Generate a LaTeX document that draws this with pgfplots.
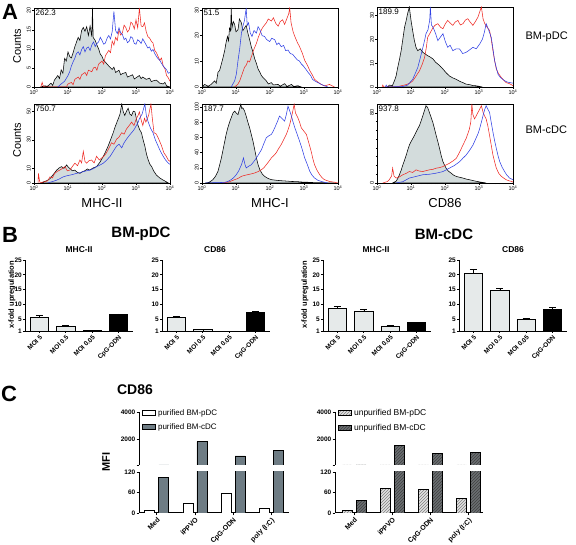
\documentclass[border=0pt]{standalone}
\usepackage{fontspec}
\setmainfont{Liberation Sans}
\usepackage{pgfplots}
\pgfplotsset{compat=1.18}
\usetikzlibrary{patterns}
\definecolor{hfill}{HTML}{D3DCDC}
\definecolor{hred}{HTML}{EE2A24}
\definecolor{hblue}{HTML}{3040E4}
\definecolor{barlight}{HTML}{E6EAEA}
\definecolor{cgray}{HTML}{6E7C84}
\definecolor{patlight}{HTML}{E2E2E2}
\definecolor{patdark}{HTML}{6A6E72}
\tikzset{hnum/.style={anchor=north west, font=\fontsize{8}{8}\selectfont, inner sep=1.5pt}}
\pgfplotsset{
  hist/.style={scale only axis, width=136pt, height=79pt, xmin=0, xmax=4, ymin=0,
    xtick={0,1,2,3,4},
    xticklabels={10\textsuperscript{0},10\textsuperscript{1},10\textsuperscript{2},10\textsuperscript{3},10\textsuperscript{4}},
    minor xtick={0.301,0.477,0.602,0.699,0.778,0.845,0.903,0.954,1.301,1.477,1.602,1.699,1.778,1.845,1.903,1.954,2.301,2.477,2.602,2.699,2.778,2.845,2.903,2.954,3.301,3.477,3.602,3.699,3.778,3.845,3.903,3.954},
    tick align=outside, xtick pos=left, ytick pos=left,
    major tick length=2pt, minor tick length=1.2pt,
    tick style={black, line width=0.4pt},
    /pgf/number format/assume math mode=true,
    tick label style={font=\fontsize{5.5}{6}\selectfont},
    xticklabel style={inner sep=1pt},
    yticklabel style={rotate=90, anchor=south, inner sep=1pt},
    axis line style={line width=0.8pt},
    every axis plot/.append style={line width=0.55pt},
  },
  bst/.style={scale only axis, width=108pt, height=71pt, xmin=-0.55, xmax=3.55, ymin=1, ymax=25,
    ytick={1,5,10,15,20,25}, xtick={0,1,2,3},
    xticklabels={MOI 5,MOI 0.5,MOI 0.05,CpG-ODN},
    axis x line*=bottom, axis y line*=left, axis line style={line width=0.9pt},
    tick align=outside, major tick length=2pt, tick style={black, line width=0.7pt},
    /pgf/number format/assume math mode=true,
    tick label style={font=\bfseries\fontsize{6.5}{7}\selectfont},
    yticklabel style={inner sep=1pt},
    xticklabel style={rotate=45, anchor=north east, inner sep=1pt},
    ybar, bar width=18.5pt, bar shift=0pt,
    error bars/y dir=plus, error bars/y explicit,
    error bars/error bar style={black, line width=0.6pt},
    error bars/error mark options={rotate=90, mark size=3.5pt, black, line width=0.6pt},
  },
  cst/.style={scale only axis, xtick={0,1,2,3},
    axis y line*=left, axis line style={line width=1pt},
    tick align=outside, major tick length=2.5pt, tick style={black, line width=0.8pt},
    /pgf/number format/assume math mode=true,
    tick label style={font=\bfseries\fontsize{6.5}{7}\selectfont},
    yticklabel style={inner sep=1pt},
    ybar=4pt, bar width=10pt,
    legend image code/.code={\draw[#1] (0pt,-2.5pt) rectangle (13pt,2.5pt);},
  },
}
\begin{document}
\begin{tikzpicture}
\path[use as bounding box] (0,0) rectangle (576pt,545pt);
% ---------------- Panel A ----------------
\node[font=\bfseries\fontsize{22}{22}\selectfont] at (10pt,533pt) {A};
\node[rotate=90, font=\fontsize{11}{11}\selectfont] at (17pt,499pt) {Counts};
\node[rotate=90, font=\fontsize{11}{11}\selectfont] at (17pt,405pt) {Counts};
\node[anchor=west, font=\fontsize{11}{11}\selectfont] at (522pt,508pt) {BM-pDC};
\node[anchor=west, font=\fontsize{11}{11}\selectfont] at (522pt,415pt) {BM-cDC};
\node[font=\fontsize{13}{13}\selectfont] at (102pt,342pt) {MHC-II};
\node[font=\fontsize{13}{13}\selectfont] at (270pt,342pt) {MHC-I};
\node[font=\fontsize{13}{13}\selectfont] at (445pt,342pt) {CD86};

% row 1 col 1
\begin{axis}[hist, at={(34pt,458pt)}, anchor=south west, ymax=20.7, ytick={0,5,10,15,20}]
\addplot[draw=black, fill=hfill] coordinates {(0.2,0)(0.3,0.3)(0.4,0.2)(0.5,1.0)(0.55,0.4)(0.6,1.8)(0.7,3.0)(0.75,2.2)(0.8,4.5)(0.85,3.6)(0.9,7.5)(0.95,6.8)(1.0,9.2)(1.05,8.0)(1.1,7.6)(1.15,9.0)(1.2,10.5)(1.25,11.8)(1.3,13.0)(1.35,12.2)(1.4,14.8)(1.45,15.6)(1.5,14.6)(1.55,15.8)(1.6,13.5)(1.65,16.0)(1.7,13.2)(1.72,20.7)(1.74,13.0)(1.8,12.2)(1.85,11.0)(1.9,10.0)(1.95,8.6)(2.0,8.0)(2.05,6.9)(2.1,6.5)(2.2,5.5)(2.3,4.6)(2.35,5.2)(2.4,3.8)(2.5,4.4)(2.55,3.2)(2.6,3.5)(2.7,3.8)(2.75,2.6)(2.8,2.8)(2.9,3.2)(2.95,2.1)(3.0,2.4)(3.1,3.0)(3.15,2.2)(3.2,2.6)(3.3,2.0)(3.4,2.3)(3.45,1.4)(3.5,1.6)(3.6,1.8)(3.7,1.0)(3.8,0.8)(3.85,1.2)(3.9,0.3)(4.0,0)} \closedcycle;
\addplot[draw=hred] coordinates {(0.2,0)(0.24,1.2)(0.28,0)(0.95,0)(1.0,0.8)(1.1,1.2)(1.15,0.6)(1.2,2.0)(1.3,2.6)(1.35,2.0)(1.4,3.2)(1.5,3.8)(1.55,3.0)(1.6,4.4)(1.7,4.0)(1.75,5.0)(1.8,5.2)(1.85,4.4)(1.9,6.0)(2.0,6.8)(2.05,6.0)(2.1,8.2)(2.2,9.6)(2.25,9.0)(2.3,12.0)(2.35,11.0)(2.4,13.0)(2.45,12.2)(2.5,15.0)(2.55,13.6)(2.6,14.2)(2.65,16.2)(2.7,15.6)(2.75,14.4)(2.8,15.0)(2.85,17.0)(2.9,16.5)(2.95,15.2)(3.0,17.6)(3.05,15.5)(3.1,20.7)(3.15,16.0)(3.2,15.8)(3.25,16.8)(3.3,14.5)(3.35,13.2)(3.4,12.8)(3.45,12.0)(3.5,11.5)(3.55,9.6)(3.6,9.0)(3.7,7.0)(3.75,7.6)(3.8,5.5)(3.85,4.8)(3.9,3.0)(3.95,2.4)(4.0,1.5)};
\addplot[draw=hblue] coordinates {(0.7,0)(0.8,0.8)(0.9,1.5)(1.0,3.0)(1.05,4.0)(1.1,5.5)(1.15,6.6)(1.2,7.5)(1.25,8.8)(1.3,9.2)(1.35,8.4)(1.4,9.8)(1.45,10.6)(1.5,9.2)(1.55,10.2)(1.6,10.5)(1.65,9.6)(1.7,11.0)(1.75,11.8)(1.8,10.6)(1.85,11.4)(1.9,11.8)(1.95,13.0)(2.0,12.2)(2.05,11.2)(2.1,11.5)(2.15,12.8)(2.2,13.5)(2.25,12.6)(2.3,14.5)(2.35,19.8)(2.4,14.8)(2.45,14.0)(2.5,15.5)(2.55,14.2)(2.6,13.8)(2.65,12.4)(2.7,12.8)(2.75,11.6)(2.8,12.0)(2.85,13.2)(2.9,12.8)(2.95,11.4)(3.0,11.2)(3.05,12.4)(3.1,12.0)(3.15,11.4)(3.2,12.6)(3.25,11.8)(3.3,11.0)(3.35,10.2)(3.4,10.5)(3.45,9.4)(3.5,9.8)(3.55,8.8)(3.6,8.0)(3.65,7.4)(3.7,7.0)(3.75,6.2)(3.8,5.5)(3.85,5.0)(3.9,4.5)(3.95,3.6)(4.0,3.8)};
\node[hnum] at (rel axis cs:0,1) {262.3};
\end{axis}

% row 1 col 2
\begin{axis}[hist, at={(202pt,458pt)}, anchor=south west, ymax=30.8, ytick={0,10,20,30}]
\addplot[draw=black, fill=hfill] coordinates {(0.0,0)(0.08,1)(0.18,0.3)(0.27,1)(0.37,2.4)(0.42,1.5)(0.47,5.7)(0.52,6.5)(0.57,9)(0.62,11.5)(0.67,14.4)(0.71,17.5)(0.75,19.7)(0.78,18)(0.81,23)(0.84,22)(0.86,30.8)(0.88,23)(0.92,25.5)(0.96,24.4)(1.0,21.5)(1.06,22.4)(1.1,26.5)(1.16,25)(1.2,22)(1.25,23)(1.3,24)(1.35,21)(1.4,18.5)(1.45,15.7)(1.5,13.5)(1.55,11)(1.6,9.2)(1.65,7)(1.7,5.8)(1.75,4.4)(1.8,3.6)(1.89,2.4)(1.95,1.2)(2.04,1.7)(2.1,0.8)(2.24,1)(2.3,0.3)(2.43,1.3)(2.5,0.2)(2.63,1)(2.7,0.2)(2.82,0.5)(2.92,0)} \closedcycle;
\addplot[draw=hred] coordinates {(0.96,0)(1.05,1.0)(1.11,2.4)(1.18,5.0)(1.25,7.7)(1.3,8.5)(1.35,10.2)(1.4,9.8)(1.45,11.7)(1.52,14.5)(1.6,17)(1.66,19.5)(1.75,22.4)(1.8,23.5)(1.89,25)(1.95,26.5)(2.04,25.7)(2.1,27)(2.17,24.8)(2.24,23.7)(2.3,25.5)(2.37,26.2)(2.43,24.4)(2.5,26.8)(2.55,28.5)(2.58,30.8)(2.62,25)(2.68,21.5)(2.73,19.7)(2.8,17.5)(2.87,15.7)(2.95,13.2)(3.02,10.4)(3.1,8.5)(3.17,6.4)(3.25,4.6)(3.31,3)(3.4,2.0)(3.51,1)(3.6,0.4)(3.7,0.8)(3.75,1)(3.85,0.3)(3.9,0)};
\addplot[draw=hblue] coordinates {(0.86,0)(0.96,2.4)(1.01,5)(1.06,10.4)(1.11,15)(1.16,21)(1.2,23.5)(1.25,26)(1.3,30.8)(1.33,24)(1.37,25)(1.42,21)(1.47,19.7)(1.53,22)(1.6,21)(1.65,23.5)(1.7,22.4)(1.77,20)(1.84,19.7)(1.9,18.5)(1.99,17.7)(2.05,19)(2.14,18.4)(2.2,16.5)(2.26,17.2)(2.33,15.7)(2.4,16.2)(2.46,14.2)(2.53,14.4)(2.6,13.0)(2.66,12.8)(2.73,11.7)(2.8,10.6)(2.86,10.2)(2.92,9)(2.98,8.2)(3.05,7.0)(3.12,5.7)(3.2,4.4)(3.25,3.0)(3.31,2.4)(3.4,1.8)(3.51,1)(3.6,0.5)(3.7,0)};
\node[hnum] at (rel axis cs:0,1) {51.5};
\end{axis}

% row 1 col 3
\begin{axis}[hist, at={(377pt,458pt)}, anchor=south west, height=80pt, ymax=33.5, ytick={0,10,20,30}]
\addplot[draw=black, fill=hfill] coordinates {(0.3,0)(0.37,0.8)(0.45,0.5)(0.51,2.5)(0.56,4.5)(0.61,8.2)(0.66,11.5)(0.71,15.2)(0.76,20)(0.81,25)(0.86,28)(0.9,30.7)(0.95,33.5)(1.0,28)(1.05,23.5)(1.1,19.4)(1.15,16.5)(1.2,15.2)(1.27,16.0)(1.35,14.5)(1.42,13.8)(1.49,13.1)(1.57,12.5)(1.65,11.7)(1.72,10.4)(1.79,9.6)(1.87,8.6)(1.94,7.5)(2.03,6.0)(2.13,4.6)(2.23,3.8)(2.33,3.2)(2.43,2.4)(2.53,1.8)(2.62,1.2)(2.72,1.0)(2.82,0.6)(2.92,0.5)(3.1,0)} \closedcycle;
\addplot[draw=hred] coordinates {(0.15,0)(0.17,0.8)(0.2,0)(0.56,0)(0.86,1.0)(0.95,1.5)(1.05,2.5)(1.15,4.6)(1.25,6.8)(1.33,9.5)(1.4,12.4)(1.45,16.5)(1.49,20.8)(1.57,22.8)(1.65,25)(1.72,26)(1.79,26.5)(1.87,25)(1.94,24.4)(2.01,26.5)(2.08,27.9)(2.15,26.8)(2.23,25.8)(2.3,27.2)(2.38,27.9)(2.45,26.0)(2.53,26.5)(2.6,28.0)(2.67,28.6)(2.75,27.0)(2.82,25.8)(2.9,27.5)(2.97,29.3)(3.07,33.5)(3.12,28.5)(3.17,26.5)(3.24,25.0)(3.31,23.7)(3.36,20.0)(3.41,15.2)(3.46,11.0)(3.51,7.5)(3.58,5.5)(3.66,3.9)(3.73,2.8)(3.8,1.8)(3.88,1.5)(3.95,1.0)(4.0,0.5)};
\addplot[draw=hblue] coordinates {(0.25,0)(0.27,0.8)(0.3,0)(0.76,0.2)(0.9,0.8)(1.05,3.2)(1.12,5.5)(1.2,8.2)(1.27,12)(1.35,16.6)(1.4,19.5)(1.44,22.3)(1.5,24)(1.55,28)(1.57,33.5)(1.6,26)(1.65,25)(1.72,22.5)(1.79,19.4)(1.87,21.0)(1.94,22.3)(2.01,19.0)(2.08,16.6)(2.15,17.5)(2.23,15.2)(2.33,16.0)(2.43,15.9)(2.52,14.0)(2.62,14.5)(2.72,15.5)(2.82,16.6)(2.92,16.0)(3.02,18.0)(3.1,20.0)(3.16,23.0)(3.21,26.5)(3.28,24.0)(3.36,20.8)(3.41,16.0)(3.46,11.0)(3.51,8.0)(3.56,5.3)(3.63,4.0)(3.7,3.2)(3.78,2.4)(3.85,2.0)(3.92,1.8)(4.0,1.6)};
\node[hnum] at (rel axis cs:0,1) {189.9};
\end{axis}

% row 2 col 1
\begin{axis}[hist, at={(34pt,362pt)}, anchor=south west, ymax=55, ytick={0,10,30,50}]
\addplot[draw=black, fill=hfill] coordinates {(0.2,0)(0.27,0.7)(0.37,1.5)(0.47,3)(0.57,6)(0.67,9)(0.74,10.5)(0.81,11.4)(0.88,10.2)(0.96,12.6)(1.01,11)(1.06,10)(1.13,8.5)(1.2,9)(1.27,7.5)(1.35,6.7)(1.42,7.8)(1.5,8.6)(1.57,9.8)(1.64,9)(1.74,10.5)(1.84,11.4)(1.94,14.5)(2.04,18.6)(2.11,22)(2.18,25.7)(2.25,30)(2.33,35)(2.4,40)(2.48,44.8)(2.53,48)(2.58,55)(2.62,50)(2.67,47)(2.72,50)(2.77,52)(2.82,48)(2.87,47)(2.92,50)(2.97,49.5)(3.01,45)(3.06,40)(3.11,37)(3.16,35)(3.21,30)(3.26,25.7)(3.31,20)(3.36,16)(3.41,13)(3.46,11.4)(3.53,8)(3.6,5.5)(3.7,3.5)(3.8,2)(3.88,1)(3.95,0)} \closedcycle;
\addplot[draw=hred] coordinates {(0.12,0)(0.13,6.7)(0.16,2)(0.18,0)(0.4,1.5)(0.47,4.3)(0.54,3.5)(0.61,6.7)(0.68,8)(0.76,9)(0.83,10)(0.91,11.4)(0.98,8.5)(1.06,9)(1.13,11.5)(1.2,13.8)(1.28,12)(1.35,16)(1.4,14)(1.45,22)(1.5,15)(1.55,13.8)(1.62,15.5)(1.69,16)(1.77,14)(1.84,18.6)(1.92,16)(1.99,17.4)(2.06,18.8)(2.13,21)(2.2,24)(2.28,28)(2.35,27)(2.43,30.5)(2.5,32)(2.58,35)(2.65,34)(2.72,37.6)(2.8,40)(2.87,42.4)(2.94,40)(3.01,44.8)(3.06,47)(3.1,49.5)(3.15,44)(3.2,40)(3.25,45)(3.29,42.4)(3.37,47)(3.44,55)(3.48,45)(3.53,35)(3.6,34)(3.67,30.5)(3.75,26)(3.82,21)(3.88,19)(3.95,16)(4.0,15)};
\addplot[draw=hblue] coordinates {(0.4,0)(0.47,0.5)(0.57,1.2)(0.67,2)(0.76,3)(0.86,4.3)(0.96,5)(1.06,5.5)(1.15,6)(1.25,6.7)(1.35,7.2)(1.45,7.9)(1.55,8.5)(1.65,9)(1.75,10)(1.84,11.4)(1.94,12.5)(2.04,13.8)(2.14,16)(2.24,18.6)(2.33,22)(2.43,25.7)(2.5,27)(2.58,24.5)(2.65,28)(2.72,30.5)(2.8,33)(2.87,35)(2.94,37)(3.01,40)(3.06,42)(3.1,44.8)(3.18,48)(3.26,55)(3.31,46)(3.36,42.4)(3.43,38)(3.5,35)(3.57,30)(3.65,25.7)(3.72,22)(3.8,18.6)(3.87,16)(3.95,13.8)(4.0,13)};
\node[hnum] at (rel axis cs:0,1) {750.7};
\end{axis}

% row 2 col 2
\begin{axis}[hist, at={(202pt,362pt)}, anchor=south west, ymax=104, ytick={0,20,40,60,80,100}]
\addplot[draw=black, fill=hfill] coordinates {(0.1,0)(0.18,0.5)(0.25,2)(0.32,4.4)(0.4,9)(0.47,15.4)(0.52,24)(0.57,33)(0.62,44)(0.67,55)(0.71,64)(0.76,72.7)(0.81,80)(0.86,86)(0.91,92)(0.96,94.7)(1.01,92)(1.06,90)(1.1,97)(1.14,103.5)(1.17,98)(1.2,99)(1.25,95)(1.3,88)(1.35,80)(1.4,72.7)(1.45,64)(1.5,55)(1.55,44)(1.6,33)(1.65,24)(1.7,17.6)(1.77,12)(1.84,8.8)(1.94,6)(2.04,4.4)(2.2,3.5)(2.33,3)(2.5,2.5)(2.63,2)(2.8,1.8)(2.92,1.3)(3.1,1.0)(3.31,0.5)(3.6,0.3)(3.9,0)} \closedcycle;
\addplot[draw=hred] coordinates {(0.6,0)(0.8,1.5)(0.96,4.4)(1.06,6)(1.16,8.8)(1.25,10)(1.35,11)(1.45,12)(1.55,13.2)(1.65,15)(1.75,17.6)(1.82,20)(1.89,24)(1.96,28)(2.04,33)(2.11,36)(2.18,39.6)(2.25,45)(2.33,50.7)(2.4,57)(2.48,64)(2.53,70)(2.58,77)(2.63,86)(2.67,94.7)(2.71,103.5)(2.75,92)(2.82,86)(2.87,80)(2.92,72.7)(3.0,68)(3.07,64)(3.14,53)(3.21,41.9)(3.26,32)(3.31,24)(3.38,17)(3.46,11)(3.53,7)(3.6,4.4)(3.75,2)(3.9,1)(4.0,0)};
\addplot[draw=hblue] coordinates {(0.1,0)(0.67,0.8)(0.76,2)(0.86,4.4)(0.93,7)(1.01,11)(1.08,16)(1.16,24)(1.22,33)(1.26,25)(1.3,19.8)(1.37,22)(1.45,24)(1.52,28)(1.6,33)(1.67,38)(1.75,44)(1.82,52)(1.89,59.5)(1.96,62)(2.04,64)(2.09,68)(2.14,72.7)(2.21,80)(2.28,88)(2.35,85)(2.43,81.5)(2.48,90)(2.53,101)(2.58,95)(2.63,88)(2.68,80)(2.73,72.7)(2.8,64)(2.87,55)(2.95,44)(3.02,33)(3.1,24)(3.17,15.4)(3.24,10)(3.31,6.6)(3.41,3.5)(3.51,2)(3.6,1)(3.7,0)};
\node[hnum] at (rel axis cs:0,1) {187.7};
\end{axis}

% row 2 col 3
\begin{axis}[hist, at={(377pt,362pt)}, anchor=south west, ymax=90, ytick={0,80}, minor ytick={10,20,30,40,50,60,70}]
\addplot[draw=black, fill=hfill] coordinates {(0.46,0)(0.56,2)(0.61,5)(0.66,9.4)(0.71,14.5)(0.76,20.6)(0.81,26)(0.86,31.8)(0.9,37)(0.95,43)(1.0,47)(1.05,50.5)(1.1,54)(1.15,58)(1.2,62)(1.25,65.5)(1.3,71)(1.35,76.8)(1.4,83)(1.44,88)(1.49,86)(1.54,80.5)(1.59,75)(1.64,69.3)(1.69,62)(1.74,54.3)(1.79,47)(1.84,39.3)(1.89,31)(1.94,24.3)(1.99,20)(2.03,16.9)(2.1,13.5)(2.18,11.2)(2.25,9)(2.33,7.5)(2.43,6.5)(2.53,5.6)(2.62,4.5)(2.72,3.7)(2.82,2.8)(2.92,1.9)(3.05,1)(3.21,0)} \closedcycle;
\addplot[draw=hred] coordinates {(0.17,0)(0.3,1.5)(0.36,3.7)(0.43,8)(0.46,16.9)(0.5,8)(0.56,5.6)(0.66,7)(0.76,9.4)(0.86,11)(0.95,13.1)(1.05,12)(1.15,15)(1.25,13.5)(1.35,13.1)(1.44,14)(1.54,15)(1.64,15.5)(1.74,16.9)(1.84,17.5)(1.94,18.7)(2.03,20.5)(2.13,22.5)(2.23,25)(2.33,28)(2.4,33)(2.48,39.3)(2.55,45)(2.62,50.5)(2.67,56)(2.72,61.8)(2.76,70)(2.79,90)(2.82,78)(2.87,73)(2.95,79)(3.02,84)(3.07,88)(3.12,80.5)(3.17,76)(3.21,73)(3.26,65)(3.31,54.3)(3.36,43)(3.41,31.8)(3.46,24)(3.51,16.9)(3.58,11)(3.66,7.5)(3.73,5.5)(3.8,3.7)(3.88,2.5)(3.95,1.9)(4.0,1)};
\addplot[draw=hblue] coordinates {(0.56,0)(0.76,1.5)(0.95,5.6)(1.15,7.5)(1.35,9.4)(1.55,10)(1.74,11.2)(1.94,13)(2.13,16.9)(2.28,20)(2.43,24.3)(2.52,28)(2.62,31.8)(2.72,37)(2.82,43)(2.9,50)(2.97,56)(3.02,62)(3.07,69.3)(3.12,77)(3.17,84)(3.21,88)(3.26,84)(3.31,80.5)(3.36,69)(3.41,58)(3.46,48)(3.51,39.3)(3.56,31)(3.61,24.3)(3.68,18)(3.75,13.1)(3.82,9)(3.9,5.6)(4.0,3.7)};
\node[hnum] at (rel axis cs:0,1) {937.8};
\end{axis}

% ---------------- Panel B ----------------
\node[font=\bfseries\fontsize{22}{22}\selectfont] at (10pt,310pt) {B};
\node[font=\bfseries\fontsize{15}{15}\selectfont] at (141pt,311pt) {BM-pDC};
\node[font=\bfseries\fontsize{15}{15}\selectfont] at (444pt,311pt) {BM-cDC};
\node[font=\bfseries\fontsize{8.5}{9}\selectfont] at (79pt,295pt) {MHC-II};
\node[font=\bfseries\fontsize{8.5}{9}\selectfont] at (215pt,295pt) {CD86};
\node[font=\bfseries\fontsize{8.5}{9}\selectfont] at (376pt,295pt) {MHC-II};
\node[font=\bfseries\fontsize{8.5}{9}\selectfont] at (513pt,295pt) {CD86};
\node[rotate=90, font=\bfseries\fontsize{7.5}{8}\selectfont] at (12pt,250pt) {x-fold upregulation};
\node[rotate=90, font=\bfseries\fontsize{7.5}{8}\selectfont] at (305pt,250pt) {x-fold upregulation};

\begin{axis}[bst, at={(25pt,214pt)}, anchor=south west]
\addplot[draw=black, fill=barlight, line width=0.7pt] coordinates {(0,5.6) +- (0,0.6) (1,2.7) +- (0,0.3) (2,1.2) +- (0,0.1)};
\addplot[draw=black, fill=black, line width=0.7pt] coordinates {(3,6.7) +- (0,0.1)};
\end{axis}
\begin{axis}[bst, at={(162pt,214pt)}, anchor=south west]
\addplot[draw=black, fill=barlight, line width=0.7pt] coordinates {(0,5.7) +- (0,0.3) (1,1.4) +- (0,0.05) (2,0.9) +- (0,0.0)};
\addplot[draw=black, fill=black, line width=0.7pt] coordinates {(3,7.2) +- (0,0.35)};
\end{axis}
\begin{axis}[bst, at={(323pt,214pt)}, anchor=south west]
\addplot[draw=black, fill=barlight, line width=0.7pt] coordinates {(0,8.7) +- (0,0.7) (1,7.5) +- (0,0.8) (2,2.7) +- (0,0.2)};
\addplot[draw=black, fill=black, line width=0.7pt] coordinates {(3,3.9) +- (0,0.1)};
\end{axis}
\begin{axis}[bst, at={(459pt,214pt)}, anchor=south west]
\addplot[draw=black, fill=barlight, line width=0.7pt] coordinates {(0,20.5) +- (0,1.3) (1,14.8) +- (0,0.7) (2,5.0) +- (0,0.2)};
\addplot[draw=black, fill=black, line width=0.7pt] coordinates {(3,8.3) +- (0,0.7)};
\end{axis}

% ---------------- Panel C ----------------
\node[font=\bfseries\fontsize{22}{22}\selectfont] at (9pt,151pt) {C};
\node[font=\bfseries\fontsize{14}{14}\selectfont] at (135pt,155pt) {CD86};
\node[rotate=90, font=\bfseries\fontsize{11}{11}\selectfont] at (106pt,83pt) {MFI};

% left lower
\begin{axis}[cst, at={(139pt,32pt)}, anchor=south west, width=150pt, height=41pt,
  xmin=-0.47, xmax=3.47, ymin=0, ymax=120, ytick={0,60,120},
  axis x line*=bottom, xticklabels={Med,iPPVO,CpG-ODN,poly (I:C)},
  xticklabel style={rotate=45, anchor=north east, inner sep=1pt, font=\bfseries\fontsize{7}{7}\selectfont}]
\addplot[draw=black, line width=0.9pt, fill=white] coordinates {(0,8)(1,29)(2,58)(3,13)};
\addplot[draw=black, line width=0.9pt, fill=cgray] coordinates {(0,103)(1,1826)(2,779)(3,1167)};
\end{axis}
% left upper
\begin{axis}[cst, at={(139pt,80pt)}, anchor=south west, width=150pt, height=53pt,
  xmin=-0.47, xmax=3.47, ymin=120, ymax=4000, ytick={120,2000,4000}, yticklabels={,2000,4000},
  axis x line=none,
  legend style={at={(0.02,1.09)}, anchor=north west, draw=none, fill=none, inner sep=0pt,
    row sep=3pt, font=\fontsize{8}{9}\selectfont, legend cell align=left}]
\addplot[draw=black, line width=0.9pt, fill=white] coordinates {(0,8)(1,29)(2,58)(3,13)};
\addlegendentry{purified BM-pDC}
\addplot[draw=black, line width=0.9pt, fill=cgray] coordinates {(0,103)(1,1826)(2,779)(3,1167)};
\addlegendentry{purified BM-cDC}
\end{axis}

% right lower
\begin{axis}[cst, at={(335pt,32pt)}, anchor=south west, width=148pt, height=41pt,
  xmin=-0.5, xmax=3.38, ymin=0, ymax=120, ytick={0,60,120},
  axis x line*=bottom, xticklabels={Med,iPPVO,CpG-ODN,poly (I:C)},
  xticklabel style={rotate=45, anchor=north east, inner sep=1pt, font=\bfseries\fontsize{7}{7}\selectfont}]
\addplot[draw=black, line width=0.9pt, preaction={fill=patlight}, pattern=north east lines, pattern color=gray] coordinates {(0,8)(1,72)(2,70)(3,42)};
\addplot[draw=black, line width=0.9pt, preaction={fill=patdark}, pattern=north east lines, pattern color=black!75] coordinates {(0,38)(1,1562)(2,977)(3,1050)};
\end{axis}
% right upper
\begin{axis}[cst, at={(335pt,80pt)}, anchor=south west, width=148pt, height=53pt,
  xmin=-0.5, xmax=3.38, ymin=120, ymax=4000, ytick={120,2000,4000}, yticklabels={,2000,4000},
  axis x line=none,
  legend style={at={(0.02,1.09)}, anchor=north west, draw=none, fill=none, inner sep=0pt,
    row sep=3pt, font=\fontsize{8.5}{9}\selectfont, legend cell align=left}]
\addplot[draw=black, line width=0.9pt, preaction={fill=patlight}, pattern=north east lines, pattern color=gray] coordinates {(0,8)(1,72)(2,70)(3,42)};
\addlegendentry{unpurified BM-pDC}
\addplot[draw=black, line width=0.9pt, preaction={fill=patdark}, pattern=north east lines, pattern color=black!75] coordinates {(0,38)(1,1562)(2,977)(3,1050)};
\addlegendentry{unpurified BM-cDC}
\end{axis}
\end{tikzpicture}
\end{document}
